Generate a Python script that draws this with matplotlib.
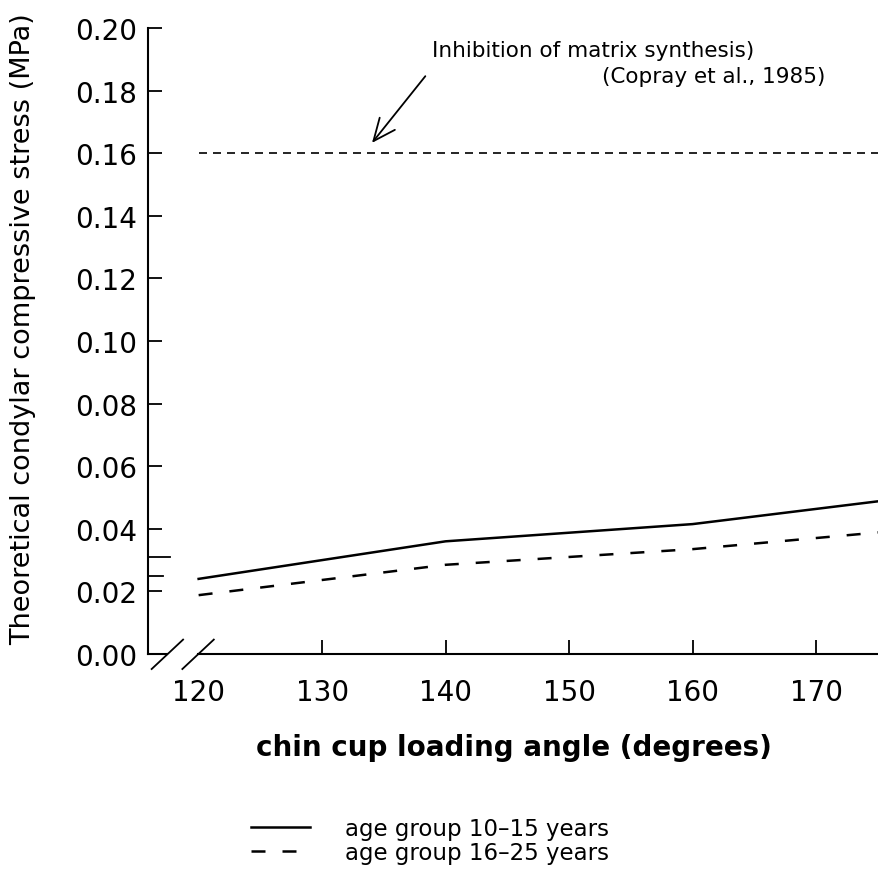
import matplotlib
matplotlib.use('Agg')
import matplotlib.pyplot as plt

plt.rcParams['font.family'] = ['DejaVu Sans']

# chin cup loading angle vs. theoretical condylar stress
angles = [120, 140, 160, 180]
stress_10_15 = [0.024, 0.036, 0.0415, 0.0512]
stress_16_25 = [0.0188, 0.0285, 0.0335, 0.0406]
threshold = 0.16
threshold_span = [120, 180]
y_ticks = [0.00, 0.02, 0.04, 0.06, 0.08, 0.10, 0.12, 0.14, 0.16, 0.18, 0.20]
x_ticks = [120, 130, 140, 150, 160, 170]
ref_marks = [0.025, 0.031]

fig = plt.figure(figsize=(8.79, 8.79), dpi=100)
ax = fig.add_axes([148 / 879, 1 - 655 / 879, 731 / 879, 626 / 879])

ax.plot(angles, stress_10_15, color='black', lw=1.8, label='age group 10\u201315 years')
ax.plot(angles, stress_16_25, color='black', lw=1.8, linestyle=(0, (5.6, 6.8)),
        label='age group 16\u201325 years')
ax.plot(threshold_span, [threshold, threshold], color='black', lw=1.2,
        linestyle=(0, (4.8, 3.6)))

ax.set_xlim(115.9, 175.1)
ax.set_ylim(0, 0.20)
ax.set_xticks(x_ticks)
ax.set_yticks(y_ticks)
ax.set_yticklabels(['%.2f' % v for v in y_ticks])
ax.tick_params(axis='both', direction='in', length=10, width=1.3, labelsize=20)
ax.tick_params(axis='x', pad=17)
ax.tick_params(axis='y', pad=8)
# no tick mark at the break, only the label
ax.xaxis.get_major_ticks()[0].tick1line.set_visible(False)

# extra short marks on the stress axis
yt = ax.get_yaxis_transform()
ax.plot([0, 0.02], [ref_marks[0], ref_marks[0]], color='black', lw=1.3, transform=yt, clip_on=False)
ax.plot([0, 0.03], [ref_marks[1], ref_marks[1]], color='black', lw=1.3, transform=yt, clip_on=False)

for s in ['top', 'right', 'bottom']:
    ax.spines[s].set_visible(False)
ax.spines['left'].set_linewidth(1.5)

# broken x axis with two slashes
at = ax.transAxes
ax.plot([0, 0.026], [0, 0], color='black', lw=1.5, transform=at, clip_on=False)
ax.plot([0.069, 1.0], [0, 0], color='black', lw=1.5, transform=at, clip_on=False)
ax.plot([0.005, 0.048], [-0.024, 0.023], color='black', lw=1.3, transform=at, clip_on=False)
ax.plot([0.047, 0.090], [-0.024, 0.023], color='black', lw=1.3, transform=at, clip_on=False)

ax.set_xlabel('chin cup loading angle (degrees)', fontsize=20, fontweight='bold', labelpad=20)
ax.set_ylabel('Theoretical condylar compressive stress (MPa)', fontsize=19.5)
ax.yaxis.set_label_coords(-0.153, 0.521)

ax.annotate('', xy=(133.9, 0.1626), xytext=(138.5, 0.1853),
            arrowprops=dict(arrowstyle='->,head_length=0.8,head_width=0.35',
                            color='black', lw=1.3, mutation_scale=20))
ax.text(138.9, 0.191, 'Inhibition of matrix synthesis)', fontsize=15.5, va='baseline')
ax.text(152.7, 0.1827, '(Copray et al., 1985)', fontsize=15.5, va='baseline')

leg = fig.legend(loc='upper left', bbox_to_anchor=(230 / 879, 1 - 797 / 879),
                 frameon=False, fontsize=16.5, labelspacing=0.05,
                 handlelength=2.6, handletextpad=1.5)

fig.savefig('out.png', dpi=100)
